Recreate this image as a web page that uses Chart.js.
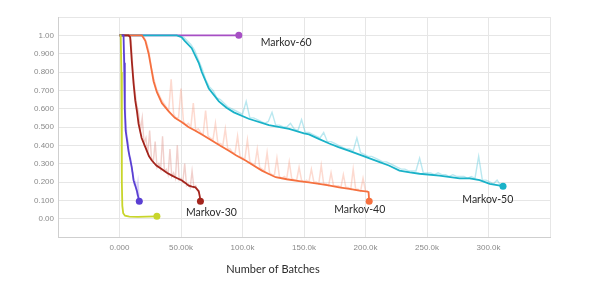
<!DOCTYPE html>
<html><head><meta charset="utf-8">
<script src="https://cdn.jsdelivr.net/npm/chart.js@4/dist/chart.umd.min.js"></script>
<style>html,body{margin:0;padding:0;background:#fff}#wrap{width:604px;height:307px}</style>
</head><body><div id="wrap"><canvas id="c" width="604" height="307"></canvas></div>
<script>
// ---- tick labels ----
const xTickValues = [0, 50000, 100000, 150000, 200000, 250000, 300000];
const xTickLabels = ['0.000', '50.00k', '100.0k', '150.0k', '200.0k', '250.0k', '300.0k'];
const yTickValues = [0, 1, 2, 3, 4, 5, 6, 7, 8, 9, 10]; // tenths
const yTickLabels = ['0.00', '0.100', '0.200', '0.300', '0.400', '0.500', '0.600', '0.700', '0.800', '0.900', '1.00'];
const xTitle = 'Number of Batches';

// ---- smoothed series ----
const yellowX = [0, 1000, 1500, 1800, 2000, 2300, 3000, 4500, 8000, 15000, 22000, 30400];
const yellowY = [1.0, 1.0, 0.8, 0.5, 0.2, 0.07, 0.03, 0.016, 0.011, 0.010, 0.011, 0.013];

const purpleX = [0, 3300, 3800, 4300, 5000, 7300, 10000, 11400, 14100, 15500, 16100];
const purpleY = [1.0, 1.0, 0.85, 0.6, 0.48, 0.37, 0.28, 0.21, 0.153, 0.11, 0.095];

const m30X = [0, 7300, 8700, 10000, 11400, 12800, 14100, 15500, 18000, 21000, 24000, 26300, 30000, 34500, 38500, 42700, 46500, 50800, 53500, 56300, 59000, 61700, 64400, 65300, 65800];
const m30Y = [1.0, 1.0, 0.99, 0.86, 0.74, 0.645, 0.59, 0.517, 0.44, 0.39, 0.34, 0.317, 0.29, 0.27, 0.25, 0.235, 0.222, 0.208, 0.195, 0.18, 0.175, 0.171, 0.15, 0.12, 0.095];

const m40X = [0, 18200, 21000, 23700, 27700, 30400, 34500, 40000, 45000, 50800, 56000, 61700, 68000, 75000, 82000, 88900, 95000, 102500, 109000, 115800, 121000, 127000, 136000, 146000, 154000, 162300, 170000, 178600, 187000, 195000, 201500, 202500, 203000];
const m40Y = [1.0, 1.0, 0.97, 0.90, 0.75, 0.69, 0.63, 0.585, 0.55, 0.526, 0.5, 0.48, 0.455, 0.426, 0.398, 0.37, 0.345, 0.317, 0.29, 0.262, 0.245, 0.226, 0.215, 0.205, 0.198, 0.19, 0.181, 0.171, 0.162, 0.153, 0.148, 0.145, 0.095];

const m50X = [0, 46500, 50500, 53000, 58700, 64400, 66900, 72600, 80800, 87000, 93000, 105000, 121500, 137900, 150000, 154000, 162000, 170500, 178000, 186800, 199000, 211000, 219000, 227600, 236000, 243900, 260000, 276500, 284700, 292800, 301000, 311800];
const m50Y = [1.0, 1.0, 0.99, 0.97, 0.93, 0.85, 0.80, 0.71, 0.64, 0.605, 0.58, 0.545, 0.51, 0.49, 0.465, 0.46, 0.435, 0.41, 0.39, 0.37, 0.34, 0.31, 0.29, 0.262, 0.252, 0.245, 0.235, 0.22, 0.22, 0.21, 0.19, 0.177];

const m60X = [0, 97000];
const m60Y = [1.0, 1.0];

// ---- raw (noisy) series ----
const purpleRawX = [4000, 5000, 6000, 7000, 8000, 9000, 10000, 11000, 12000, 13000, 14000, 15000, 16000];
const purpleRawY = [0.9, 0.55, 0.45, 0.42, 0.34, 0.33, 0.26, 0.25, 0.19, 0.2, 0.15, 0.2, 0.1];

const m30RawX = [8000, 9500, 11000, 12500, 14000, 15500, 17000, 18500, 20000, 21500, 23000, 24500, 26000, 27500, 29000, 30500, 32000, 33500, 35000, 36500, 38000, 39500, 41000, 42500, 44000, 45500, 47000, 48500, 50000, 51500, 53000, 54500, 56000, 57500, 59000, 60500, 62000, 63500, 65000];
const m30RawY = [1.0, 0.97, 0.80, 0.70, 0.62, 0.58, 0.48, 0.55, 0.41, 0.44, 0.35, 0.48, 0.33, 0.31, 0.42, 0.28, 0.30, 0.27, 0.45, 0.26, 0.27, 0.24, 0.38, 0.23, 0.25, 0.22, 0.40, 0.21, 0.22, 0.20, 0.30, 0.18, 0.19, 0.17, 0.26, 0.17, 0.18, 0.15, 0.14];

const m40RawX = [18000, 20000, 22000, 24000, 26000, 28000, 30000, 32000, 34000, 36000, 38000, 40000, 42000, 44000, 46000, 48000, 50000, 52000, 54000, 56000, 58000, 60000, 62000, 64000, 66000, 68000, 70000, 72000, 74000, 76000, 78000, 80000, 82000, 84000, 86000, 88000, 90000, 92000, 94000, 96000, 98000, 100000, 102000, 104000, 106000, 108000, 110000, 112000, 114000, 116000, 118000, 120000, 122000, 124000, 126000, 128000, 130000, 132000, 134000, 136000, 138000, 140000, 142000, 144000, 146000, 148000, 150000, 152000, 154000, 156000, 158000, 160000, 162000, 164000, 166000, 168000, 170000, 172000, 174000, 176000, 178000, 180000, 182000, 184000, 186000, 188000, 190000, 192000, 194000, 196000, 198000, 200000, 202000];
const m40RawY = [1.0, 0.99, 0.96, 0.91, 0.82, 0.76, 0.71, 0.68, 0.65, 0.63, 0.61, 0.59, 0.76, 0.57, 0.55, 0.55, 0.71, 0.53, 0.51, 0.52, 0.50, 0.63, 0.48, 0.49, 0.47, 0.46, 0.59, 0.45, 0.44, 0.43, 0.52, 0.41, 0.41, 0.40, 0.49, 0.38, 0.38, 0.36, 0.36, 0.45, 0.34, 0.33, 0.33, 0.43, 0.31, 0.30, 0.29, 0.38, 0.28, 0.27, 0.26, 0.36, 0.25, 0.24, 0.24, 0.33, 0.23, 0.22, 0.23, 0.22, 0.31, 0.22, 0.21, 0.21, 0.28, 0.21, 0.20, 0.21, 0.20, 0.27, 0.20, 0.20, 0.19, 0.29, 0.19, 0.19, 0.18, 0.25, 0.18, 0.18, 0.18, 0.17, 0.24, 0.17, 0.17, 0.16, 0.27, 0.16, 0.16, 0.15, 0.22, 0.15, 0.15];

const m50RawX = [46000, 49000, 52000, 55000, 58000, 61000, 64000, 67000, 70000, 73000, 76000, 79000, 82000, 85000, 88000, 91000, 94000, 97000, 100000, 103000, 106000, 109000, 112000, 115000, 118000, 121000, 124000, 127000, 130000, 133000, 136000, 139000, 142000, 145000, 148000, 151000, 154000, 157000, 160000, 163000, 166000, 169000, 172000, 175000, 178000, 181000, 184000, 187000, 190000, 193000, 196000, 199000, 202000, 205000, 208000, 211000, 214000, 217000, 220000, 223000, 226000, 229000, 232000, 235000, 238000, 241000, 244000, 247000, 250000, 253000, 256000, 259000, 262000, 265000, 268000, 271000, 274000, 277000, 280000, 283000, 286000, 289000, 292000, 295000, 298000, 301000, 304000, 307000, 310000];
const m50RawY = [1.0, 1.0, 0.99, 0.97, 0.95, 0.92, 0.87, 0.82, 0.76, 0.72, 0.70, 0.66, 0.65, 0.63, 0.61, 0.60, 0.59, 0.58, 0.57, 0.64, 0.55, 0.55, 0.54, 0.53, 0.52, 0.53, 0.58, 0.51, 0.51, 0.50, 0.50, 0.52, 0.49, 0.48, 0.54, 0.47, 0.47, 0.46, 0.45, 0.44, 0.47, 0.42, 0.42, 0.41, 0.40, 0.39, 0.38, 0.38, 0.37, 0.44, 0.36, 0.35, 0.34, 0.34, 0.33, 0.32, 0.31, 0.31, 0.30, 0.29, 0.28, 0.27, 0.27, 0.26, 0.26, 0.26, 0.33, 0.25, 0.25, 0.25, 0.24, 0.25, 0.24, 0.24, 0.23, 0.24, 0.23, 0.23, 0.23, 0.22, 0.23, 0.22, 0.34, 0.21, 0.21, 0.20, 0.19, 0.21, 0.18];

// ---- annotations ----
const annLabels = ['Markov-30', 'Markov-40', 'Markov-50', 'Markov-60'];
const annX = [54000, 174600, 278700, 114800];
const annY = [0.035, 0.049, 0.102, 0.96];

const pts = (xs, ys) => xs.map((x, i) => ({ x: x, y: ys[i] }));

function mainSet(xs, ys, color, order) {
  const n = xs.length;
  return {
    data: pts(xs, ys), borderColor: color, backgroundColor: color,
    borderWidth: 1.8, showLine: true, tension: 0, order: order,
    pointRadius: (ctx) => ctx.dataIndex === n - 1 ? 3.5 : 0,
    pointHoverRadius: 0, pointBorderWidth: 0
  };
}
function rawSet(xs, ys, color, w) {
  return {
    data: pts(xs, ys), borderColor: color, backgroundColor: color,
    borderWidth: w, showLine: true, tension: 0, order: 20,
    pointRadius: 0, pointHoverRadius: 0
  };
}

const datasets = [
  rawSet(purpleRawX, purpleRawY, 'rgba(150,130,230,0.35)', 1.5),
  rawSet(m30RawX, m30RawY, 'rgba(215,120,110,0.35)', 1.4),
  rawSet(m40RawX, m40RawY, 'rgba(250,150,120,0.35)', 1.5),
  rawSet(m50RawX, m50RawY, 'rgba(90,200,220,0.42)', 1.4),
  mainSet(yellowX, yellowY, '#c8d52b', 1),
  mainSet(purpleX, purpleY, '#5a3fd3', 2),
  mainSet(m30X, m30Y, '#a3241c', 3),
  mainSet(m40X, m40Y, '#f5703f', 4),
  mainSet(m50X, m50Y, '#1ab2c8', 5),
  mainSet(m60X, m60Y, '#a64fc4', 6)
];

const textPlugin = {
  id: 'texts',
  afterDatasetsDraw(chart) {
    const c = chart.ctx, xs = chart.scales.x, ys = chart.scales.y;
    c.save();
    c.fillStyle = '#2b2b2b';
    c.font = '10.5px Lato';
    c.textAlign = 'left';
    c.textBaseline = 'middle';
    annLabels.forEach((t, i) => c.fillText(t, xs.getPixelForValue(annX[i]), ys.getPixelForValue(annY[i])));
    c.font = '11px Lato';
    c.textAlign = 'center';
    const a = chart.chartArea;
    c.fillText(xTitle, (a.left + a.right) / 2 - 31, a.bottom + 32);
    c.restore();
  }
};

new Chart(document.getElementById('c'), {
  type: 'scatter',
  data: { datasets: datasets },
  plugins: [textPlugin],
  options: {
    responsive: false, animation: false, devicePixelRatio: 1,
    layout: { padding: { top: 17, right: 54, left: 0, bottom: 0 } },
    plugins: { legend: { display: false }, tooltip: { enabled: false } },
    scales: {
      x: {
        type: 'linear', min: -50000, max: 350000,
        grid: { color: '#e6e6e6', drawTicks: false },
        border: { color: '#cfcfcf' },
        ticks: {
          stepSize: 50000, autoSkip: false, maxRotation: 0, padding: 6,
          color: '#8a8a8a', font: { family: 'Liberation Sans', size: 8 },
          callback: (v) => { const i = xTickValues.indexOf(Math.round(v)); return i >= 0 ? xTickLabels[i] : ''; }
        },
        afterFit: (s) => { s.height = 70; }
      },
      y: {
        min: -0.1, max: 1.1,
        grid: { color: '#e6e6e6', drawTicks: false },
        border: { color: '#cfcfcf' },
        ticks: {
          stepSize: 0.1, padding: 4,
          color: '#8a8a8a', font: { family: 'Liberation Sans', size: 8 },
          callback: (v) => { const i = yTickValues.indexOf(Math.round(v * 10)); return i >= 0 ? yTickLabels[i] : ''; }
        },
        afterFit: (s) => { s.width = 58; }
      }
    }
  }
});
</script>
</body></html>
